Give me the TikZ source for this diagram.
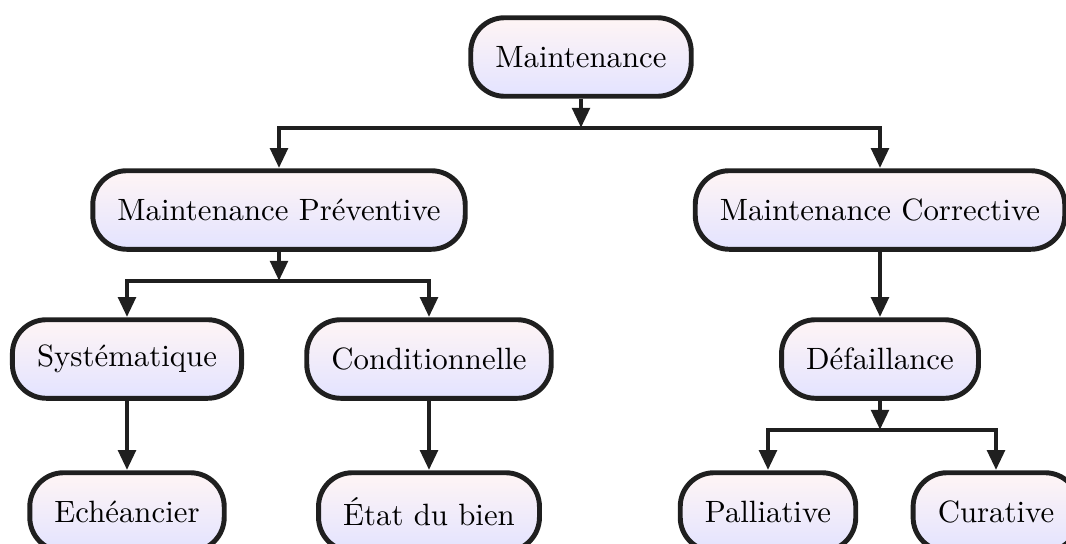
\documentclass[tikz,border=0pt]{standalone}
\usetikzlibrary{arrows.meta}
\begin{document}
\begin{tikzpicture}[x=0.3246pt,y=-0.3246pt,
  box/.style={draw=black!88, line width=1.6pt, rounded corners=11pt,
    top color=red!4, bottom color=blue!11, minimum height=25.5pt, inner xsep=8pt},
  link/.style={draw=black!88, line width=1.6pt},
  arr/.style={link, -{Triangle[length=6.5pt,width=5.5pt]}}]
\useasboundingbox (0,0) rectangle (1066,543);
% nodes
\node[box] (m)  at (581,57)  {Maintenance};
\node[box] (mp) at (279,210) {Maintenance Préventive};
\node[box] (mc) at (880,210) {Maintenance Corrective};
\node[box] (sy) at (127,359) {Systématique};
\node[box] (co) at (429,359) {Conditionnelle};
\node[box] (de) at (880,359) {Défaillance};
\node[box] (ec) at (127,512) {Echéancier};
\node[box] (et) at (429,512) {État du bien};
\node[box] (pa) at (768,512) {Palliative};
\node[box] (cu) at (996,512) {Curative};
% junction points
\coordinate (j1) at (581,128);
\coordinate (j2) at (279,281);
\coordinate (j3) at (880,430);
% connectors
\draw[arr] (m.south) -- (j1);
\draw[arr] (j1) -| (mp.north);
\draw[arr] (j1) -| (mc.north);
\draw[arr] (mp.south) -- (j2);
\draw[arr] (j2) -| (sy.north);
\draw[arr] (j2) -| (co.north);
\draw[arr] (mc.south) -- (de.north);
\draw[arr] (sy.south) -- (ec.north);
\draw[arr] (co.south) -- (et.north);
\draw[arr] (de.south) -- (j3);
\draw[arr] (j3) -| (pa.north);
\draw[arr] (j3) -| (cu.north);
\end{tikzpicture}
\end{document}
